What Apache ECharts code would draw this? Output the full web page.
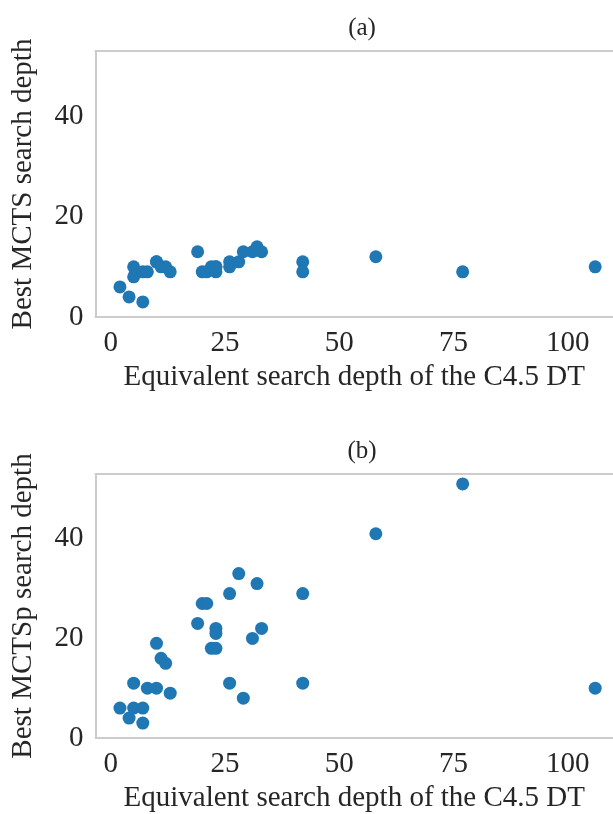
<!DOCTYPE html>
<html>
<head>
<meta charset="utf-8">
<script src="https://cdn.jsdelivr.net/npm/echarts@6/dist/echarts.min.js"></script>
<style>
html,body{margin:0;padding:0;background:#fff;}
#chart{width:613px;height:814px;}
</style>
</head>
<body>
<div id="chart"></div>
<script>
// C4.5 DT equivalent depth (x) vs best depth found (y)
var mctsPoints=[[2,6],[4,4],[7,3],[5,10],[5,8],[7,9],[8,9],[10,11],[10,11],[11,10],[12,10],[13,9],
  [19,13],[20,9],[21,9],[22,10],[23,9],[23,10],[23,10],[26,10],[26,11],[28,11],[29,13],[31,13],
  [32,14],[33,13],[42,11],[42,9],[58,12],[77,9],[106,10]];
var mctspPoints=[[2,6],[4,4],[7,3],[5,11],[5,6],[7,6],[8,10],[10,10],[10,19],[11,16],[12,15],[13,9],
  [19,23],[20,27],[21,27],[22,18],[23,18],[23,22],[23,21],[26,29],[26,11],[28,33],[29,8],[31,20],
  [32,31],[33,22],[42,29],[42,11],[58,41],[77,51],[106,10]];
var xTicks=[0,25,50,75,100];
var yTicks=[0,20,40];
var panelTitles=['(a)','(b)'];
var yNames=['Best MCTS search depth','Best MCTSp search depth'];
var xName='Equivalent search depth of the C4.5 DT';

var font='Liberation Serif';
var txt='#262626';
var blue='#1f77b4';
var spine={show:true,onZero:false,lineStyle:{color:'#cccccc',width:2}};
var tops=[51,474];

var myChart=echarts.init(document.getElementById('chart'),null,{renderer:'canvas'});

var grids=[],xAxes=[],yAxes=[],series=[],titles=[];
var sets=[mctsPoints,mctspPoints];
for(var i=0;i<2;i++){
  //右边框在图外，只画左/下/上三条
  grids.push({left:95.5,top:tops[i],width:517.5,height:266});
  titles.push({text:panelTitles[i],left:357,top:tops[i]-40,textAlign:'center',
    textStyle:{fontFamily:font,fontSize:25,fontWeight:'normal',color:txt}});
  xAxes.push({gridIndex:i,type:'value',min:-3.35,max:109.9,
    name:xName,nameLocation:'middle',nameGap:46,
    nameTextStyle:{fontFamily:font,fontSize:29,color:txt},
    axisLine:spine,axisTick:{show:false},splitLine:{show:false},
    axisLabel:{customValues:xTicks,margin:12,fontFamily:font,fontSize:29,color:txt}});
  xAxes.push({gridIndex:i,type:'value',position:'top',min:-3.35,max:109.9,
    axisLine:spine,axisTick:{show:false},splitLine:{show:false},axisLabel:{show:false}});
  yAxes.push({gridIndex:i,type:'value',min:0,max:53,
    name:yNames[i],nameLocation:'middle',nameGap:58,nameRotate:90,
    nameTextStyle:{fontFamily:font,fontSize:29,color:txt},
    axisLine:spine,axisTick:{show:false},splitLine:{show:false},
    axisLabel:{customValues:yTicks,margin:12,fontFamily:font,fontSize:29,color:txt}});
  series.push({type:'scatter',xAxisIndex:i*2,yAxisIndex:i,data:sets[i],symbolSize:13,
    itemStyle:{color:blue,opacity:1}});
}

var option={
  animation:false,
  backgroundColor:'#ffffff',
  title:titles,
  grid:grids,
  xAxis:xAxes,
  yAxis:yAxes,
  series:series
};
myChart.setOption(option);
window.addEventListener("resize",function(){
  myChart.resize();
});
</script>
</body>
</html>
